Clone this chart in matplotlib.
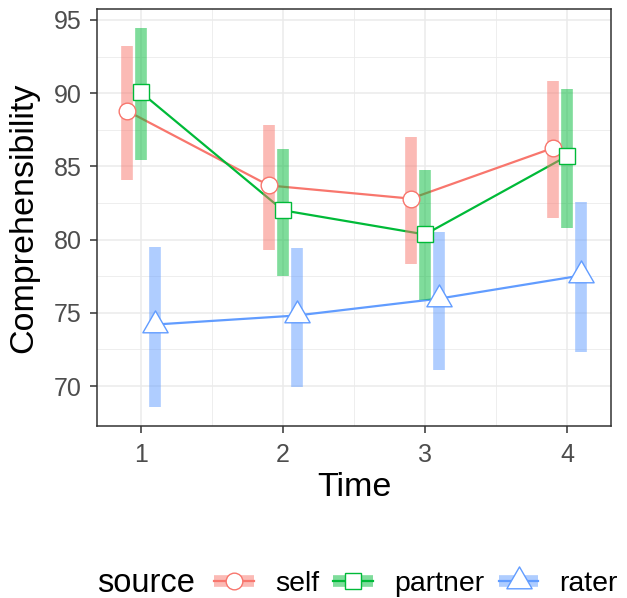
import matplotlib
matplotlib.use('Agg')
import matplotlib.pyplot as plt
from matplotlib.lines import Line2D
from matplotlib.path import Path
import numpy as np

plt.rcParams['font.family'] = ['Liberation Sans', 'DejaVu Sans']

# ---- data ----
times = [1, 2, 3, 4]
sources = ['self', 'partner', 'rater']
self_mean = [88.8, 83.7, 82.8, 86.25]
self_lo = [84.1, 79.3, 78.35, 81.5]
self_hi = [93.25, 87.8, 87.0, 90.8]
partner_mean = [90.05, 82.0, 80.35, 85.7]
partner_lo = [85.45, 77.5, 75.9, 80.8]
partner_hi = [94.45, 86.2, 84.75, 90.3]
rater_mean = [74.2, 74.82, 75.97, 77.55]
rater_lo = [68.55, 69.95, 71.1, 72.3]
rater_hi = [79.5, 79.4, 80.5, 82.6]
y_ticks = [70, 75, 80, 85, 90, 95]
x_ticks = [1, 2, 3, 4]

colors = ['#F8766D', '#00BA38', '#619CFF']
dodge = [-0.1, 0.0, 0.1]
means = [self_mean, partner_mean, rater_mean]
los = [self_lo, partner_lo, rater_lo]
his = [self_hi, partner_hi, rater_hi]

tri = Path([(0, 1), (0.866, -0.5), (-0.866, -0.5), (0, 1)],
           [Path.MOVETO, Path.LINETO, Path.LINETO, Path.CLOSEPOLY])
markers = ['o', 's', tri]
msizes = [12, 11.5, 21]

fig = plt.figure(figsize=(6.27, 5.98), dpi=100)
ax = fig.add_axes([97/627, 1-426/598, (611-97)/627, (426-9)/598])

for i, s in enumerate(sources):
    xs = np.array(times) + dodge[i]
    ax.plot(xs, means[i], color=colors[i], lw=1.6, zorder=3)
    ax.vlines(xs, los[i], his[i], color=colors[i], alpha=0.5, lw=8.4,
              zorder=4, capstyle='butt')
    ax.plot(xs, means[i], ls='none', marker=markers[i], ms=msizes[i],
            mfc='white', mec=colors[i], mew=1.0, zorder=5)

ax.set_xlim(0.69, 4.31)
ax.set_ylim(67.27, 95.75)
ax.set_xticks(x_ticks)
ax.set_yticks(y_ticks)
ax.set_xticks([1.5, 2.5, 3.5], minor=True)
ax.set_yticks([72.5, 77.5, 82.5, 87.5, 92.5], minor=True)
ax.grid(which='major', color='#EBEBEB', lw=1.1, zorder=0)
ax.grid(which='minor', color='#EBEBEB', lw=0.6, zorder=0)
ax.set_axisbelow(True)
for sp in ax.spines.values():
    sp.set_color('#333333')
    sp.set_linewidth(1.1)
ax.tick_params(which='major', length=5, width=1.1, color='#333333',
               labelsize=18, labelcolor='#4D4D4D')
ax.tick_params(axis='x', which='major', pad=7)
ax.tick_params(axis='y', which='major', pad=6)
ax.tick_params(which='minor', length=0)
ax.set_xlabel('Time', fontsize=24.5, va='center')
ax.set_ylabel('Comprehensibility', fontsize=24.5, va='center')
ax.xaxis.set_label_coords(0.5, (426-488)/417)
ax.yaxis.set_label_coords((24-97)/514, 0.5)

# legend
handles = []
for i in range(3):
    bar = Line2D([], [], color=colors[i], alpha=0.5, lw=8.4, solid_capstyle='butt')
    ln = Line2D([], [], color=colors[i], lw=1.6)
    mk = Line2D([], [], ls='none', marker=markers[i], ms=msizes[i],
                mfc='white', mec=colors[i], mew=1.0)
    handles.append((bar, ln, mk))
fig.text(97/627, 1-584/598, 'source', fontsize=23.5, va='center', ha='left')
fig.legend(handles, sources, ncol=3, frameon=False, fontsize=20.5,
           loc='center left', bbox_to_anchor=(214/627, 1-584/598),
           handlelength=1.4, handletextpad=0.74, columnspacing=0.5,
           borderaxespad=0, borderpad=0)

fig.savefig('out.png', dpi=100)
